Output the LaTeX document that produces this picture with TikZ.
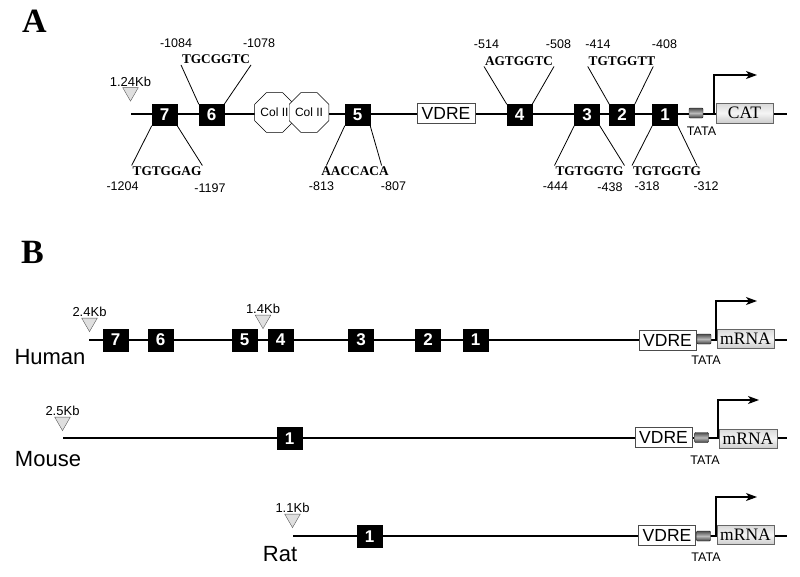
\documentclass[tikz,border=0pt]{standalone}
\usepackage{fontspec}
\setmainfont{Liberation Serif}
\setsansfont{Liberation Sans}
\usetikzlibrary{arrows.meta,positioning,shapes.geometric}

\tikzset{
  site/.style={fill=black, draw=black, text=white, font=\sffamily\bfseries\fontsize{17}{17}\selectfont,
    minimum width=25pt, minimum height=21pt, inner sep=0pt},
  seq/.style={font=\bfseries\fontsize{13.3}{14}\selectfont, inner sep=0.8pt},
  posn/.style={font=\sffamily\fontsize{12.5}{13}\selectfont, inner sep=0pt},
  kb/.style={font=\sffamily\fontsize{13}{13}\selectfont, inner sep=1pt},
  cutmark/.style={regular polygon, regular polygon sides=3, shape border rotate=180, fill=gray!25,
    draw=gray!70!black, minimum size=18pt, inner sep=0pt},
  colii/.style={regular polygon, regular polygon sides=8, draw, fill=white, minimum size=37.5pt,
    inner sep=0pt, font=\sffamily\fontsize{12}{12}\selectfont},
  vdre/.style={draw=black!70, fill=white, minimum width=57pt, minimum height=20pt, inner sep=0pt,
    font=\sffamily\fontsize{17.5}{18}\selectfont},
  tata/.style={draw=black!90, rounded corners=1pt, top color=black!70, bottom color=black!75,
    middle color=gray!55, minimum width=14pt, minimum height=10pt, inner sep=0pt},
  reporter/.style={draw=black!60, top color=gray!30, bottom color=gray!40, middle color=gray!8,
    minimum width=57pt, minimum height=19pt, inner sep=0pt, font=\fontsize{17.5}{18}\selectfont},
  dna/.style={line width=1.1pt},
  arm/.style={line width=0.8pt},
  promoter/.style={line width=1.1pt, -{Stealth[length=11pt, width=8pt, inset=3pt]}},
  species/.style={font=\sffamily\fontsize{22}{22}\selectfont, inner sep=0pt},
  panel/.style={font=\bfseries\fontsize{34}{34}\selectfont, inner sep=0pt}
}

\begin{document}
\begin{tikzpicture}[x=1pt, y=-1pt]
\useasboundingbox (0,0) rectangle (800,576);

% A
\coordinate (a0) at (131,114);
\coordinate (a9) at (787,114);
\draw[dna] (a0) -- (a9);
\node[panel] (pA) at (34.5,21.5) {A};
\node[cutmark, anchor=south] (cA) at (130.5,101.5) {};
\node[kb, above=0pt of cA] (kA) {1.24Kb};
\node[site] (s7) at (164.5,115) {7};
\node[site] (s6) at (211.5,115) {6};
\node[colii] (c1) at (274.5,112.5) {Col II};
\node[colii] (c2) at (309,112.5) {Col II};
\node[site] (s5) at (357.5,115) {5};
\node[vdre, minimum width=58pt] (vA) at (446,113.5) {VDRE};
\node[site] (s4) at (519.5,115) {4};
\node[site] (s3) at (587,115) {3};
\node[site] (s2) at (622,115) {2};
\node[site] (s1) at (665,115) {1};
\node[tata] (tA) at (696,113) {};
\node[posn] (tlA) at (701.5,131.5) {TATA};
\node[reporter, minimum height=20pt] (rA) at (744.5,113) {CAT};
\coordinate (pA0) at (714,114);
\coordinate (pA1) at (757,75);
\draw[promoter] (pA0) |- (pA1);

\node[seq] (q6) at (216,59.5) {TGCGGTC};
\node[seq] (q7) at (167,171) {TGTGGAG};
\node[seq] (q5) at (355,171) {AACCACA};
\node[seq] (q4) at (519,61) {AGTGGTC};
\node[seq] (q2) at (622,61) {TGTGGTT};
\node[seq] (q3) at (589.5,171) {TGTGGTG};
\node[seq] (q1) at (667,171) {TGTGGTG};
\draw[arm] (s6.north west) -- (q6.south west);
\draw[arm] (s6.north east) -- (q6.south east);
\draw[arm] (s7.south west) -- (q7.north west);
\draw[arm] (s7.south east) -- (q7.north east);
\draw[arm] (s5.south west) -- ([xshift=6pt]q5.north west);
\draw[arm] (s5.south east) -- ([xshift=-8pt]q5.north east);
\draw[arm] (s4.north west) -- (q4.south west);
\draw[arm] (s4.north east) -- (q4.south east);
\draw[arm] (s2.north west) -- (q2.south west);
\draw[arm] (s2.north east) -- ([xshift=-3pt]q2.south east);
\draw[arm] (s3.south west) -- (q3.north west);
\draw[arm] (s3.south east) -- (q3.north east);
\draw[arm] (s1.south west) -- (q1.north west);
\draw[arm] (s1.south east) -- ([xshift=-5pt]q1.north east);

\node[posn] (n6a) at (176,43.5) {-1084};
\node[posn] (n6b) at (259,43.5) {-1078};
\node[posn] (n7a) at (122.5,186.5) {-1204};
\node[posn] (n7b) at (210,188.5) {-1197};
\node[posn] (n5a) at (321.5,186.5) {-813};
\node[posn] (n5b) at (393.5,186.5) {-807};
\node[posn] (n4a) at (486.5,44.5) {-514};
\node[posn] (n4b) at (558.5,44.5) {-508};
\node[posn] (n2a) at (598,44.5) {-414};
\node[posn] (n2b) at (664.5,44.5) {-408};
\node[posn] (n3a) at (555.5,186.5) {-444};
\node[posn] (n3b) at (610,187) {-438};
\node[posn] (n1a) at (647,186.5) {-318};
\node[posn] (n1b) at (706,186.5) {-312};

% B
\node[panel] (pB) at (32.5,252.5) {B};

\coordinate (h0) at (89,340);
\coordinate (h9) at (787,340);
\draw[dna] (h0) -- (h9);
\node[cutmark, anchor=south] (cH1) at (89.5,332) {};
\node[kb, above=0pt of cH1] (kH1) {2.4Kb};
\node[cutmark, anchor=south] (cH2) at (263,329) {};
\node[kb, above=0pt of cH2] (kH2) {1.4Kb};
\node[site, minimum height=22pt] (h7) at (115.5,340) {7};
\node[site, minimum height=22pt] (h6) at (160.5,340) {6};
\node[site, minimum height=22pt] (h5) at (244.5,340) {5};
\node[site, minimum height=22pt] (h4) at (280.5,340) {4};
\node[site, minimum height=22pt] (h3) at (361,340) {3};
\node[site, minimum height=22pt] (h2) at (428,340) {2};
\node[site, minimum height=22pt] (h1) at (475.5,340) {1};
\node[vdre] (vH) at (667.5,340) {VDRE};
\node[tata] (tH) at (704,339) {};
\node[posn] (tlH) at (706,360) {TATA};
\node[reporter] (rH) at (745.5,338.5) {mRNA};
\coordinate (pH0) at (716,340);
\coordinate (pH1) at (757,301);
\draw[promoter] (pH0) |- (pH1);
\node[species] (lH) at (50,357.5) {Human};

\coordinate (m0) at (63,438);
\coordinate (m9) at (787,438);
\draw[dna] (m0) -- (m9);
\node[cutmark, anchor=south] (cM) at (62.5,431) {};
\node[kb, above=0pt of cM] (kM) {2.5Kb};
\node[site, minimum height=22pt] (m1) at (289.5,438.5) {1};
\node[vdre] (vM) at (663.5,437) {VDRE};
\node[tata] (tM) at (701.5,437.5) {};
\node[posn] (tlM) at (705,460) {TATA};
\node[reporter, minimum width=58pt] (rM) at (748,438.5) {mRNA};
\coordinate (pM0) at (718,438);
\coordinate (pM1) at (759,400);
\draw[promoter] (pM0) |- (pM1);
\node[species] (lM) at (48,459) {Mouse};

\coordinate (r0) at (293,536);
\coordinate (r9) at (787,536);
\draw[dna] (r0) -- (r9);
\node[cutmark, anchor=south] (cR) at (292.5,528) {};
\node[kb, above=0pt of cR] (kR) {1.1Kb};
\node[site, minimum height=22pt] (r1) at (369.5,536.5) {1};
\node[vdre] (vR) at (667,535.5) {VDRE};
\node[tata] (tR) at (703.5,536) {};
\node[posn] (tlR) at (706,557.5) {TATA};
\node[reporter] (rR) at (745.5,535) {mRNA};
\coordinate (pR0) at (716,536);
\coordinate (pR1) at (757,497);
\draw[promoter] (pR0) |- (pR1);
\node[species] (lR) at (280,554.5) {Rat};
\end{tikzpicture}
\end{document}
